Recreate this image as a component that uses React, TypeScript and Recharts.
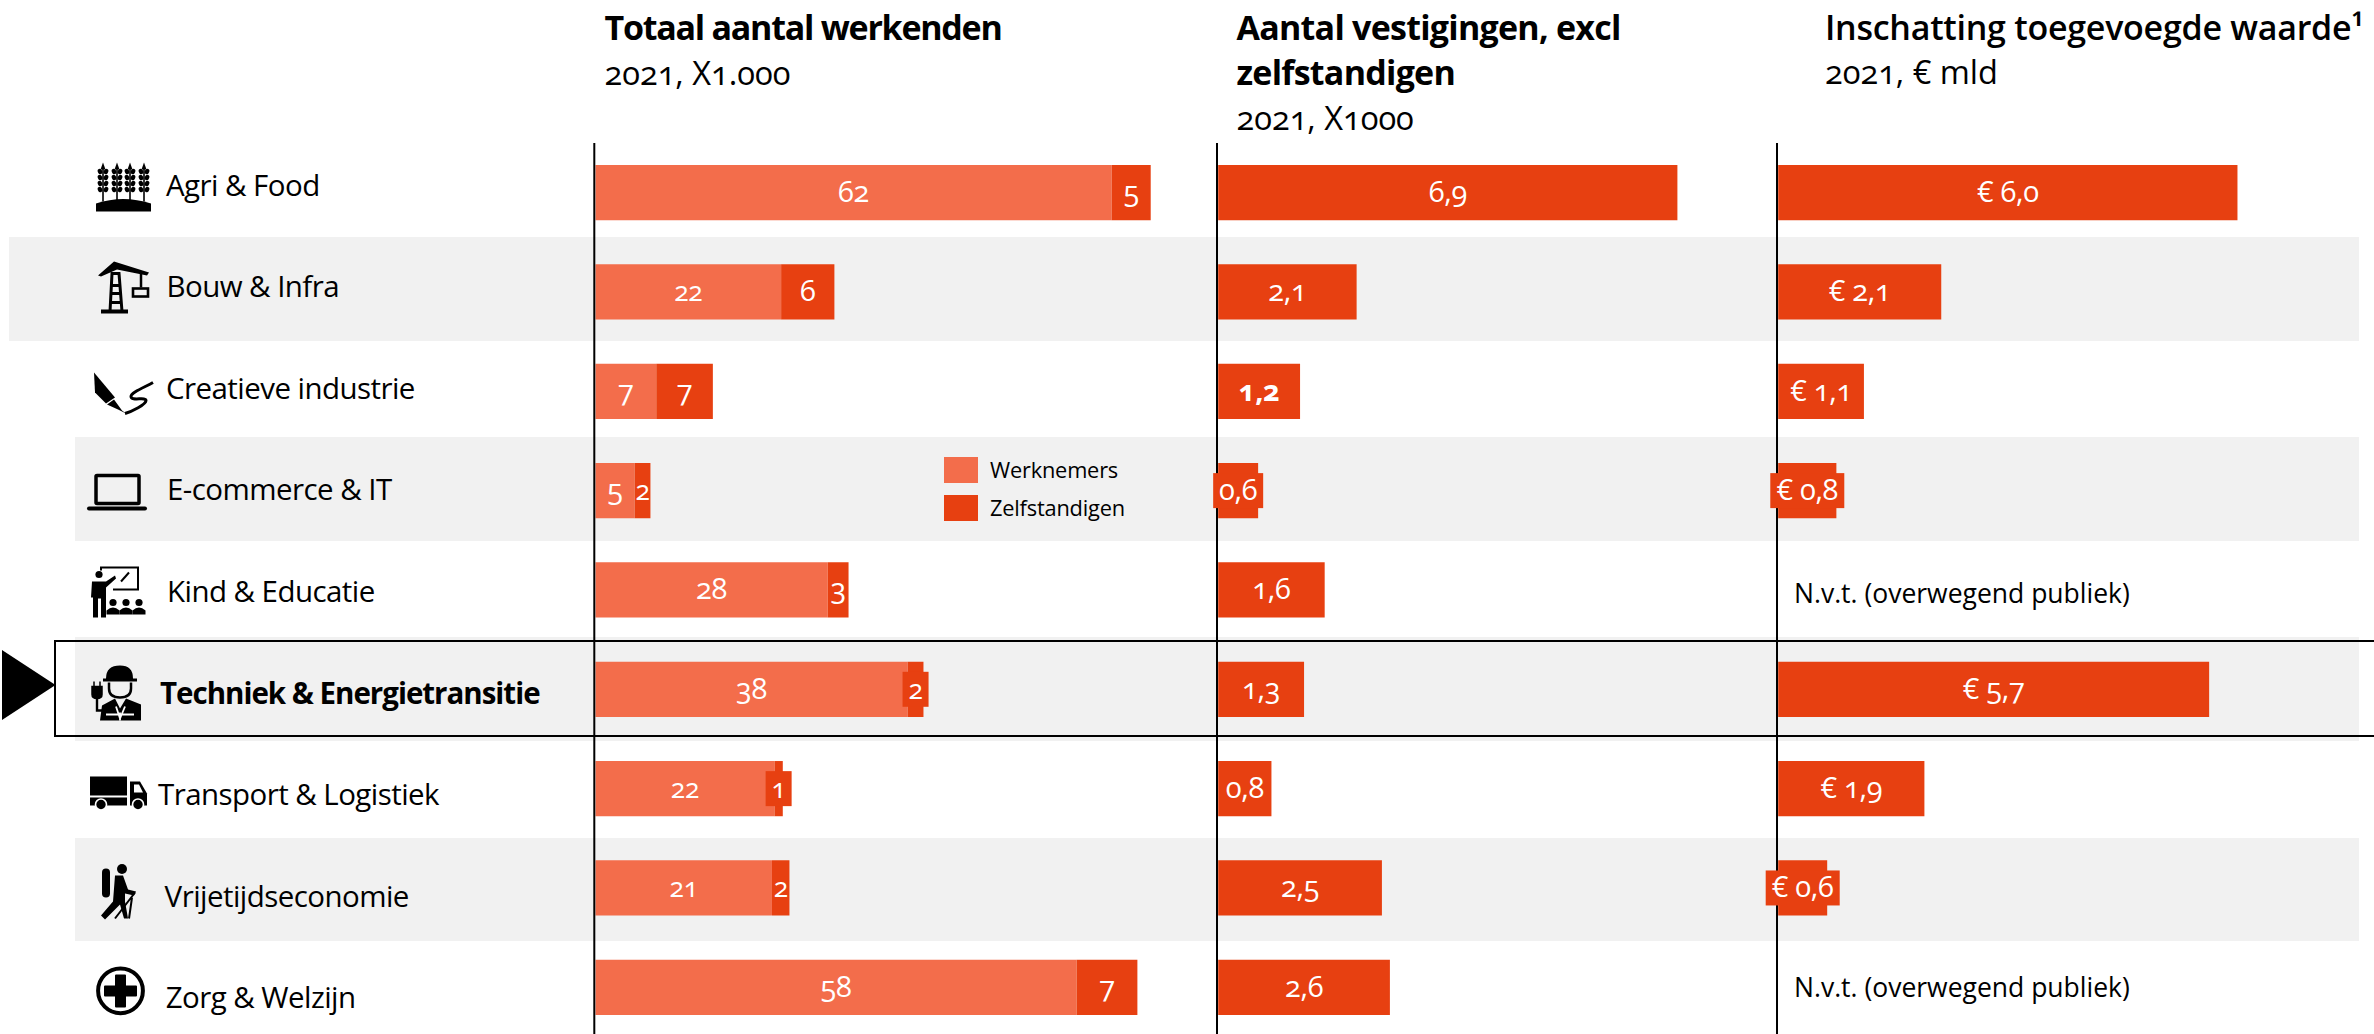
import { BarChart, Bar, XAxis, YAxis, LabelList, Legend } from 'recharts'

const categories = [
  'Agri & Food', 'Bouw & Infra', 'Creatieve industrie', 'E-commerce & IT', 'Kind & Educatie',
  'Techniek & Energietransitie', 'Transport & Logistiek', 'Vrijetijdseconomie', 'Zorg & Welzijn',
]
const highlighted = 'Techniek & Energietransitie'

// The labels are what the picture prints
const werknemers = [62, 22.3, 7.3, 4.7, 27.9, 37.5, 21.5, 21.2, 57.8]
const zelfstandigen = [4.7, 6.4, 6.8, 1.9, 2.5, 1.9, 1, 2.1, 7.3]
const vestigingen = [6.9, 2.08, 1.23, 0.6, 1.6, 1.29, 0.8, 2.46, 2.58]
const toegevoegd = [6, 2.13, 1.12, 0.76, null, 5.63, 1.91, 0.64, null]

const werknemersLabels = ['62', '22', '7', '5', '28', '38', '22', '21', '58']
const zelfstandigenLabels = ['5', '6', '7', '2', '3', '2', '1', '2', '7']
const vestigingenLabels = ['6,9', '2,1', '1,2', '0,6', '1,6', '1,3', '0,8', '2,5', '2,6']
const toegevoegdLabels = ['€ 6,0', '€ 2,1', '€ 1,1', '€ 0,8', 'N.v.t. (overwegend publiek)', '€ 5,7', '€ 1,9', '€ 0,6', 'N.v.t. (overwegend publiek)']

// Labels too wide for their bar get a patch in the bar colour
const patchedZelf = ['Techniek & Energietransitie', 'Transport & Logistiek']
const patchedVest = ['E-commerce & IT']
const patchedWaarde = ['E-commerce & IT', 'Vrijetijdseconomie']
const boldVest = ['Creatieve industrie']
const smallLabels = ['22', '21', '2', '1']

const LIGHT = '#F36D4B'
const DARK = '#E74011'
const GREY = '#F1F1F1'
const FONT = '"Open Sans", sans-serif'
const ONUM = { fontFeatureSettings: '"onum"' }

const PLOT_TOP = 142.5
const ROW_H = 99.34
const PLOT_H = ROW_H * 9
const BAR_H = 55.2

const LABEL_X = [166, 166.5, 166, 167, 167, 160, 158, 164.6, 165.7]
const ICON_POS = [[96, 162], [97, 261], [94, 372], [87, 473], [91, 567], [92, 664], [90, 776], [101, 863], [96, 966]]

const data1 = categories.map((name, i) => ({ name, werknemers: werknemers[i], zelfstandigen: zelfstandigen[i] }))
const data2 = categories.map((name, i) => ({ name, vestigingen: vestigingen[i] }))
const data3 = categories.map((name, i) => ({ name, toegevoegd: toegevoegd[i] }))

function Wheat({ x }: { x: number }) {
  return (
    <g>
      <line x1={x} y1={6} x2={x} y2={39} stroke="#000" strokeWidth={1.6} />
      <path d={`M${x} 0 L${x + 2.5} 7 L${x - 2.5} 7 Z`} />
      {[9, 15, 21, 27].map((y) => (
        <g key={y}>
          <ellipse cx={x - 3} cy={y} rx={2.2} ry={2.8} transform={`rotate(-25 ${x - 3} ${y})`} />
          <ellipse cx={x + 3} cy={y} rx={2.2} ry={2.8} transform={`rotate(25 ${x + 3} ${y})`} />
        </g>
      ))}
    </g>
  )
}

function Icon({ index }: { index: number }) {
  switch (index) {
    case 0:
      return (
        <g>
          {[7, 21, 34, 48].map((x) => <Wheat key={x} x={x} />)}
          <path d="M0 49 V41 Q27 32 55 41 V49 Z" />
        </g>
      )
    case 1:
      return (
        <g stroke="#000" fill="none">
          <path d="M1 14 L17 0 L52 11 L50 14 L20 8 L4 15 Z" fill="#000" stroke="none" />
          <path d="M13 50 L15 12 H22 L25 50 M14 24 H23 M14 32 H24 M13 41 H25" strokeWidth={3} />
          <rect x={4} y={48} width={27} height={4} fill="#000" stroke="none" />
          <line x1={44} y1={12} x2={44} y2={26} strokeWidth={2.5} />
          <rect x={36} y={27} width={15} height={8} strokeWidth={2.6} />
        </g>
      )
    case 2:
      return (
        <g>
          <path d="M0 0 L21 25 L12 31 L1 20 Z" />
          <path d="M20 27 L28 38 L32 41 L24 37 L13 32 Z" />
          <path d="M59 10 C50 15 37 20 37 24 C37 29 52 24 52 28 C52 32 38 39 31 41" fill="none" stroke="#000" strokeWidth={3} strokeLinejoin="round" />
        </g>
      )
    case 3:
      return (
        <g>
          <rect x={9} y={2} width={43} height={28} fill="none" stroke="#000" strokeWidth={3.5} rx={1} />
          <rect x={0} y={33} width={60} height={4} rx={2} />
        </g>
      )
    case 4:
      return (
        <g>
          <circle cx={8} cy={7} r={3.6} />
          <path d="M1 14 H15 L24 8 L25 11 L15 20 V50 H10 V31 H7 V50 H2 V30 H0 Z" />
          <path d="M10 3 V0 H47 V22 H22" fill="none" stroke="#000" strokeWidth={2} />
          <path d="M30 14 L38 5" stroke="#000" strokeWidth={2} />
          {[22, 35, 48].map((x) => (
            <g key={x}>
              <circle cx={x} cy={35} r={3.6} />
              <path d={`M${x - 6.5} 47 V43 Q${x} 37 ${x + 6.5} 43 V47 Z`} />
            </g>
          ))}
        </g>
      )
    case 5:
      return (
        <g>
          <path d="M14 14 Q14 1 28 1 Q41 1 41 14 H45 V17 H11 V14 Z" />
          <path d="M17 18 V24 Q17 33 28 33 Q39 33 39 24 V18" fill="none" stroke="#000" strokeWidth={2.5} />
          <path d="M23 34 L10 41 L8 56 H49 V40 L34 34 L28 44 Z" />
          <path d="M24 42 L28 54 L33 42 M14 50 H42 M28 48 V56" stroke="#fff" strokeWidth={1.8} fill="none" />
          <path d="M0 22 H10 V30 Q10 34 5 34 Q0 34 0 30 Z M2 17 V22 M8 17 V22" stroke="#000" strokeWidth={1.5} />
          <path d="M5 34 V46 H11" fill="none" stroke="#000" strokeWidth={2.4} />
        </g>
      )
    case 6:
      return (
        <g>
          <rect x={0} y={0} width={37} height={19} />
          <rect x={0} y={21} width={37} height={8} />
          <path d="M40 5 H50 L57 17 V29 H40 Z" />
          <path d="M44 8 H49 L53 16 H44 Z" fill="#fff" />
          <circle cx={11} cy={28} r={5.5} stroke="#fff" strokeWidth={1.6} />
          <circle cx={48} cy={28} r={5.5} stroke="#fff" strokeWidth={1.6} />
        </g>
      )
    case 7:
      return (
        <g>
          <circle cx={21} cy={5.5} r={5} />
          <rect x={1} y={5} width={8} height={29} rx={4} />
          <path d="M14 12 H22 L27 26 L35 28 L33 32 L24 30 L24 38 L27 55 H23 L19 41 L4 56 L0 52 L12 38 Z" />
          <path d="M34 29 L14 55 M31 34 L28 55" stroke="#000" strokeWidth={2} fill="none" />
        </g>
      )
    default:
      return (
        <g>
          <circle cx={24.5} cy={24.3} r={22.4} fill="none" stroke="#000" strokeWidth={4} />
          <path d="M20 9 H29 V20 H40 V29 H29 V40 H20 V29 H9 V20 H20 Z" stroke="#000" strokeWidth={2} strokeLinejoin="round" />
        </g>
      )
  }
}

function CategoryTick({ y, payload, index }: any) {
  const bold = payload.value === highlighted
  const pos = ICON_POS[index]
  return (
    <g>
      <g transform={`translate(${pos[0]} ${pos[1] - PLOT_TOP})`}><Icon index={index} /></g>
      <text
        x={LABEL_X[index]}
        y={y + 3 + 2.25 * index}
        fontFamily={FONT}
        fontSize={29.5}
        fontWeight={bold ? 700 : 400}
        letterSpacing={bold ? -1 : -0.55}
        fill="#000"
      >
        {payload.value}
      </text>
    </g>
  )
}

function barLabel(labels: string[], patched: string[], color: string, bold: string[] = []) {
  return (props: any) => {
    const { x, y, width, height } = props
    const center = y + height / 2
    // LabelList skips empty values, so its index is no row number: take the row from the position
    const row = Math.floor(center / ROW_H)
    const name = categories[row]
    const label = labels[row]
    const cx = x + width / 2
    const patchW = 12 * label.length + 14
    return (
      <g>
        {patched.includes(name) && (
          <rect x={cx - patchW / 2} y={center - 17.5} width={patchW} height={35} fill={color} />
        )}
        <text
          x={cx}
          y={center + 9.5}
          textAnchor="middle"
          fill="#fff"
          fontFamily={FONT}
          fontSize={smallLabels.includes(label) ? 26.5 : 29}
          fontWeight={bold.includes(name) ? 700 : 400}
          letterSpacing={-0.3}
          style={ONUM}
        >
          {label}
        </text>
      </g>
    )
  }
}

function LegendBox({ payload }: any) {
  return (
    <div style={{ fontFamily: FONT, fontSize: 21.8, color: '#000', letterSpacing: -0.2 }}>
      {payload.map((entry: any) => (
        <div key={entry.value} style={{ display: 'flex', alignItems: 'center', height: 38 }}>
          <span style={{ width: 34, height: 26, background: entry.color, marginRight: 12 }} />
          {entry.value}
        </div>
      ))}
    </div>
  )
}

function Header({ x, title, sub, subTop, weight = 700, spacing }: any) {
  return (
    <div style={{ position: 'absolute', left: x, top: 0, fontFamily: FONT, color: '#000', whiteSpace: 'nowrap' }}>
      {title.map((t: string, i: number) => (
        <div key={t} style={{ position: 'absolute', top: 6.4 + i * 45, fontSize: 34, lineHeight: '42px', fontWeight: weight, letterSpacing: spacing }}>
          {t}
        </div>
      ))}
      <div style={{ position: 'absolute', top: subTop, fontSize: 32.5, lineHeight: '36px', ...ONUM }}>{sub}</div>
    </div>
  )
}

const noAxis = { hide: true, type: 'number' as const }

export default function App() {
  const PX1 = 8.345
  const PX2 = 66.7
  const PX3 = 76.7
  return (
    <div style={{ position: 'fixed', left: 0, top: 0, width: 2374, height: 1034, overflow: 'hidden', background: '#fff' }}>
      {categories.map((name, i) =>
        i % 2 === 1 ? (
          <div
            key={name}
            style={{
              position: 'absolute',
              left: i === 1 ? 9 : 75,
              width: i === 1 ? 2350 : 2284,
              top: 237 + 100.1 * (i - 1),
              height: 103.8,
              background: GREY,
            }}
          />
        ) : null,
      )}

      <Header x={604.5} title={['Totaal aantal werkenden']} sub="2021, X1.000" subTop={55.4} spacing={-1.25} />
      <Header x={1236.5} title={['Aantal vestigingen, excl', 'zelfstandigen']} sub="2021, X1000" subTop={100.4} spacing={-0.75} />
      <Header x={1825} title={['Inschatting toegevoegde waarde¹']} sub="2021, € mld" subTop={54.4} weight={600} spacing={-0.26} />

      <div style={{ position: 'absolute', left: 0, top: PLOT_TOP }}>
        <BarChart width={1194} height={PLOT_H} data={data1} layout="vertical" margin={{ top: 0, right: 0, bottom: 0, left: 0 }} barSize={BAR_H}>
          <XAxis {...noAxis} domain={[-1.2 / PX1, 600 / PX1]} />
          <YAxis type="category" dataKey="name" width={594.3} axisLine={{ stroke: '#000', strokeWidth: 2 }} tickLine={false} tick={CategoryTick} interval={0} />
          <Legend
            layout="horizontal"
            verticalAlign="middle"
            content={LegendBox}
            wrapperStyle={{ position: 'absolute', left: 944, top: 308, width: 220, height: 80 }}
          />
          <Bar dataKey="werknemers" name="Werknemers" stackId="a" fill={LIGHT} isAnimationActive={false}>
            <LabelList dataKey="werknemers" content={barLabel(werknemersLabels, [], LIGHT)} />
          </Bar>
          <Bar dataKey="zelfstandigen" name="Zelfstandigen" stackId="a" fill={DARK} isAnimationActive={false}>
            <LabelList dataKey="zelfstandigen" content={barLabel(zelfstandigenLabels, patchedZelf, DARK)} />
          </Bar>
        </BarChart>
      </div>

      <div style={{ position: 'absolute', left: 1196.5, top: PLOT_TOP }}>
        <BarChart width={560} height={PLOT_H} data={data2} layout="vertical" margin={{ top: 0, right: 0, bottom: 0, left: 0 }} barSize={BAR_H}>
          <XAxis {...noAxis} domain={[-1.2 / PX2, 540 / PX2]} />
          <YAxis type="category" dataKey="name" width={20} axisLine={{ stroke: '#000', strokeWidth: 2 }} tickLine={false} tick={false} />
          <Bar dataKey="vestigingen" fill={DARK} isAnimationActive={false}>
            <LabelList dataKey="vestigingen" content={barLabel(vestigingenLabels, patchedVest, DARK, boldVest)} />
          </Bar>
        </BarChart>
      </div>

      <div style={{ position: 'absolute', left: 1756.5, top: PLOT_TOP }}>
        <BarChart width={617} height={PLOT_H} data={data3} layout="vertical" margin={{ top: 0, right: 0, bottom: 0, left: 0 }} barSize={BAR_H}>
          <XAxis {...noAxis} domain={[-1.2 / PX3, 597 / PX3]} />
          <YAxis type="category" dataKey="name" width={20} axisLine={{ stroke: '#000', strokeWidth: 2 }} tickLine={false} tick={false} />
          <Bar dataKey="toegevoegd" fill={DARK} isAnimationActive={false}>
            <LabelList dataKey="toegevoegd" content={barLabel(toegevoegdLabels, patchedWaarde, DARK)} />
          </Bar>
        </BarChart>
      </div>

      {[4, 8].map((i) => (
        <div
          key={i}
          style={{
            position: 'absolute',
            left: 1794,
            top: PLOT_TOP + ROW_H * i + (i === 4 ? 37 : 34),
            fontFamily: FONT,
            fontSize: 26.5,
            color: '#000',
            whiteSpace: 'nowrap',
            lineHeight: '32px',
          }}
        >
          {toegevoegdLabels[i]}
        </div>
      ))}

      <div style={{ position: 'absolute', left: 54, top: 640, width: 2400, height: 97, boxSizing: 'border-box', border: '2px solid #000' }} />
      <svg style={{ position: 'absolute', left: 0, top: 640 }} width={60} height={90}>
        <path d="M2 10 L55.5 45 L2 80 Z" fill="#000" />
      </svg>
    </div>
  )
}
